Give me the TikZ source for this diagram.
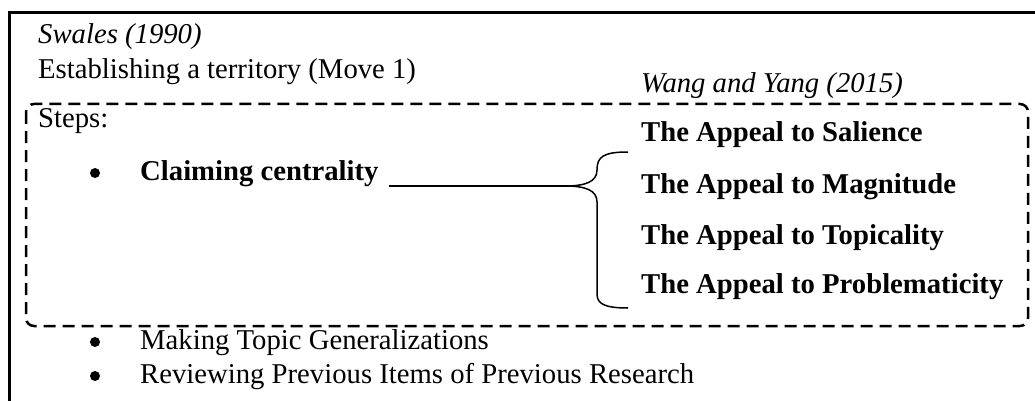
\documentclass[tikz,border=0pt]{standalone}
\usepackage{fontspec}
\setmainfont{Liberation Serif}
\begin{document}
\begin{tikzpicture}[x=1pt,y=-1pt,
		txt/.style={anchor=base west,inner sep=0pt,font=\fontsize{28.7}{34}\selectfont},
		bold/.style={txt,font=\fontsize{28.7}{34}\selectfont\bfseries},
		ital/.style={txt,font=\fontsize{28.7}{34}\selectfont\itshape},
		dot/.style={circle,fill,inner sep=0pt,minimum size=10pt}]
			\useasboundingbox (0,0) rectangle (1035,401);
			\draw[line width=3pt] (9.5,401) -- (9.5,12.5) -- (1035,12.5);
			\node[ital] (swales) at (38,44) {Swales (1990)};
			\node[txt] (move) at (38,79) {Establishing a territory (Move 1)};
			\node[ital] (wang) at (641,93) {Wang and Yang (2015)};
			\draw[line width=2.5pt, dash pattern=on 12pt off 7pt, rounded corners=8pt] (26,104) rectangle (1028,326);
			\node[txt] (steps) at (38,128) {Steps:};
			\node[dot] (dot0) at (95,173) {};
			\node[bold] (claim) at (140,180) {Claiming centrality};
			\foreach \t/\y [count=\i] in {Salience/141,Magnitude/193,Topicality/244,Problematicity/293}
			{
				\node[bold] (appeal\i) at (641,\y) {The Appeal to \t};
			}
			\coordinate (tip) at (565,186);
			\draw[line width=1.5pt] (claim.base east) ++(10,6) -- (tip);
			\draw[line width=1.5pt] (628,152) .. controls (603,152) and (597,157) .. (597,170)
				.. controls (597,182) and (585,186) .. (tip)
				.. controls (585,186) and (597,190) .. (597,202) -- (597,294)
				.. controls (597,304) and (605,308) .. (628,308);
			\foreach \t/\y [count=\i] in {Making Topic Generalizations/349,Reviewing Previous Items of Previous Research/383}
			{
				\node[dot] (dot\i) at (95,\y-7) {};
				\node[txt] (item\i) at (140,\y) {\t};
			}
	\end{tikzpicture}
\end{document}
